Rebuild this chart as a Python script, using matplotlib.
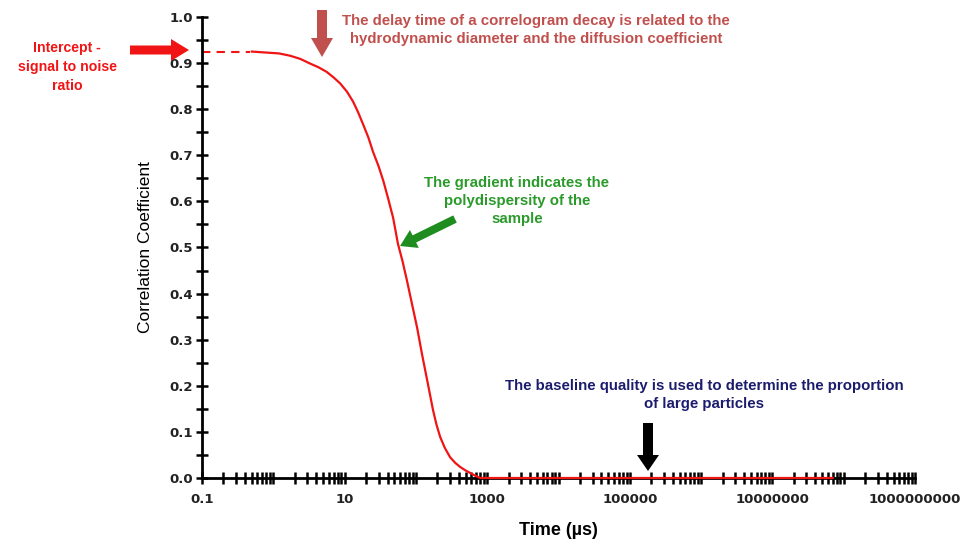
import matplotlib
matplotlib.use("Agg")
import matplotlib.pyplot as plt
import numpy as np
from matplotlib.patches import FancyArrow
from matplotlib.transforms import IdentityTransform
from matplotlib.ticker import FixedLocator, LogLocator, MultipleLocator, NullFormatter

# data
time_us = [0.5, 0.77, 1.2, 1.72, 2.4, 3.28, 4.3, 5.6, 7.0, 8.65, 10.8, 13.2,
           15.5, 18.2, 21.5, 25, 30, 35, 41, 48, 56, 65, 75, 88, 104, 122, 144,
           174, 195, 219, 255, 302, 355, 417, 490, 575, 680, 800, 7e7]
corr = [0.925, 0.923, 0.921, 0.916, 0.909, 0.899, 0.891, 0.881, 0.869, 0.856,
        0.838, 0.816, 0.793, 0.767, 0.739, 0.708, 0.676, 0.644, 0.605, 0.564,
        0.508, 0.47, 0.428, 0.378, 0.326, 0.268, 0.212, 0.147, 0.115, 0.089,
        0.065, 0.045, 0.033, 0.024, 0.017, 0.011, 0.005, 0.0, 0.0]
intercept_t = [0.1, 0.47]
intercept_v = [0.925, 0.925]

x_labels = ["0.1", "10", "1000", "100000", "10000000", "1000000000"]
x_label_pos = [0.1, 10, 1e3, 1e5, 1e7, 1e9]

W, H = 965, 540
plt.rcParams["font.family"] = ["Liberation Sans", "DejaVu Sans"]

fig = plt.figure(figsize=(W / 100, H / 100), dpi=100)
ax = fig.add_axes([202 / W, 62 / H, 713 / W, 461 / H])

ax.plot(intercept_t, intercept_v, color="#f01414", lw=1.5, ls=(0, (4, 3)))
ax.plot(time_us, corr, color="#f01414", lw=1.6, clip_on=False, zorder=5)

ax.set_xscale("log")
ax.set_xlim(0.1, 1e9)
ax.set_ylim(0, 1.0)

for s in ["top", "right"]:
    ax.spines[s].set_visible(False)
for s in ["left", "bottom"]:
    ax.spines[s].set_linewidth(2.0)

ax.xaxis.set_major_locator(FixedLocator(x_label_pos))
ax.set_xticklabels(x_labels)
ax.xaxis.set_minor_locator(LogLocator(base=10, subs=np.arange(1, 10), numticks=100))
ax.xaxis.set_minor_formatter(NullFormatter())
ax.yaxis.set_major_locator(MultipleLocator(0.1))
ax.yaxis.set_minor_locator(MultipleLocator(0.05))
ax.yaxis.set_major_formatter(matplotlib.ticker.FormatStrFormatter("%.1f"))

ax.tick_params(which="both", direction="inout", length=9, width=1.8, color="black")
ax.tick_params(axis="x", which="major", pad=6)
ax.tick_params(axis="y", which="major", pad=2)
for lab in ax.get_xticklabels() + ax.get_yticklabels():
    lab.set_fontfamily("DejaVu Sans")
    lab.set_fontweight("bold")
    lab.set_fontsize(9.5)
    lab.set_color("#222222")

ax.set_ylabel("Correlation Coefficient", fontsize=12.5, labelpad=12)
ax.set_xlabel("Time (µs)", fontsize=13, fontweight="bold", labelpad=12)


def px(x, y):
    return x / W, 1 - y / H


def arrow(x0, y0, x1, y1, color, width, head_w, head_l):
    a = FancyArrow(x0, H - y0, x1 - x0, -(y1 - y0), width=width,
                   head_width=head_w, head_length=head_l,
                   length_includes_head=True, color=color, lw=0,
                   transform=IdentityTransform())
    fig.add_artist(a)


# intercept annotation
fig.text(*px(67, 67), "Intercept -\nsignal to noise\nratio", color="#f01414",
         fontsize=10.2, fontweight="bold", ha="center", va="center", linespacing=1.42)
arrow(130, 50, 189, 50, "#f01414", 9, 22, 18)

# delay time annotation
fig.text(*px(536, 30), "The delay time of a correlogram decay is related to the\n"
         "hydrodynamic diameter and the diffusion coefficient", color="#c0504d",
         fontsize=10.8, fontweight="bold", ha="center", va="center", linespacing=1.45)
arrow(322, 10, 322, 57, "#c0504d", 10, 22, 19)

# gradient annotation
fig.text(*px(517, 201), "The gradient indicates the\npolydispersity of the\nsample",
         color="#2a9a2a", fontsize=10.8, fontweight="bold", ha="center", va="center",
         linespacing=1.4)
arrow(455, 219, 400, 246, "#1e8c1e", 8, 20, 16)

# baseline annotation
fig.text(*px(704, 395), "The baseline quality is used to determine the proportion\n"
         "of large particles", color="#1c1c6e", fontsize=10.8, fontweight="bold",
         ha="center", va="center", linespacing=1.45)
arrow(648, 423, 648, 471, "black", 10, 22, 16)

fig.savefig("out.png", dpi=100)
